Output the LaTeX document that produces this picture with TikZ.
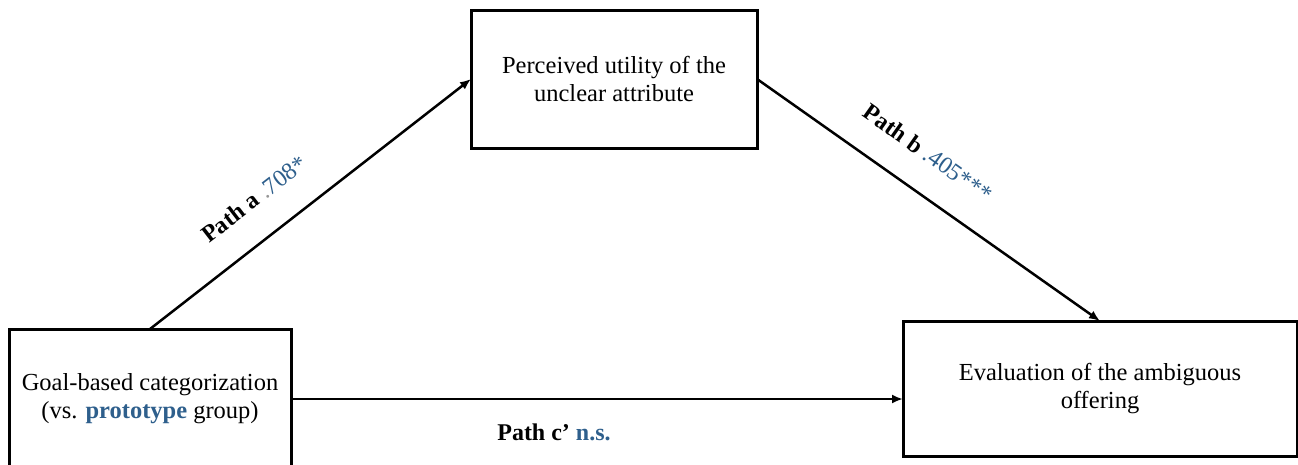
\documentclass[tikz,border=0pt]{standalone}
\usepackage{fontspec}
\setmainfont{Liberation Serif}
\usetikzlibrary{arrows.meta}
\definecolor{pblue}{RGB}{46,95,140}
\definecolor{pgray}{RGB}{150,150,150}
\begin{document}
\begin{tikzpicture}[x=1pt,y=-1pt,
  box/.style={draw=black,line width=3pt,inner sep=0pt,outer sep=0pt,align=center,
    font=\fontsize{24.5}{28}\selectfont},
  arr/.style={line width=2.5pt,-{Latex[length=11pt,width=9pt]}},
  lab/.style={font=\fontsize{24}{28}\selectfont,inner sep=0pt}]
\useasboundingbox (0,0) rectangle (1298,464);
\node[box,minimum width=286pt,minimum height=138pt] (top) at (614,79)
  {Perceived utility of the\\unclear attribute};
\node[box,minimum width=282pt,minimum height=140pt] (left) at (150,399)
  {Goal-based categorization\\(vs. \textbf{\textcolor{pblue}{prototype}} group)};
\node[box,minimum width=394pt,minimum height=135pt] (right) at (1100,388.5)
  {Evaluation of the ambiguous\\offering};
\coordinate (rin) at (right.west |- left.east);
\draw[arr] (left.north) -- (top.west);
\draw[arr] (top.east) -- (right.north);
\draw[arr] (left.east) -- (rin);
\node[lab,rotate=37.7] (la) at (254,199)
  {\textbf{Path a} \textcolor{pgray}{.}\textcolor{pblue}{708*}};
\node[lab,rotate=-35.3] (lb) at (928,153)
  {\textbf{Path b} \textcolor{pblue}{.405***}};
\node[lab] (lc) at (554,432)
  {\textbf{Path c’ \textcolor{pblue}{n.s.}}};
\end{tikzpicture}
\end{document}
